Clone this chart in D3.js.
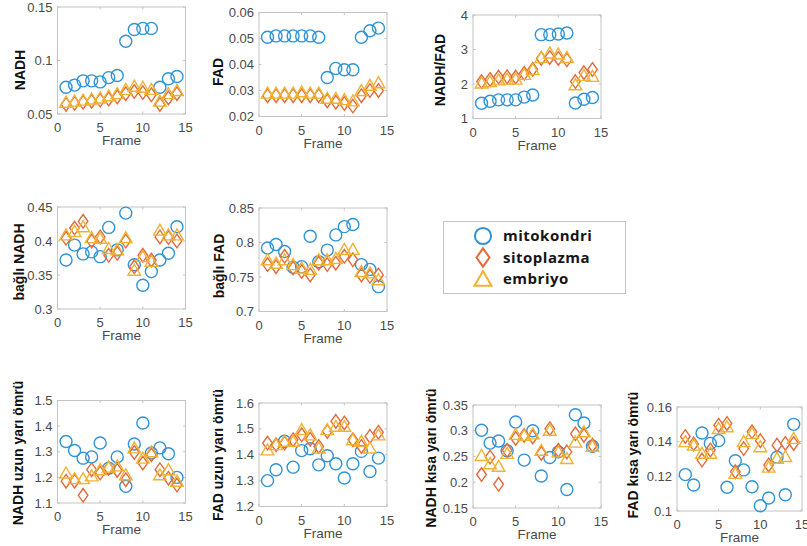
<!DOCTYPE html>
<html>
<head>
<meta charset="utf-8">
<script src="https://cdn.jsdelivr.net/npm/d3@7"></script>
<style>
  body { margin: 0; background: #fff; }
  svg { display: block; }
</style>
</head>
<body>
<svg id="chart" width="807" height="546"></svg>
<script>
// frames shared by every panel
const frames = [1, 2, 3, 4, 5, 6, 7, 8, 9, 10, 11, 12, 13, 14];

// NADH
const nadhMito = [0.075, 0.077, 0.081, 0.081, 0.080, 0.084, 0.086, 0.118, 0.129, 0.130, 0.130, 0.075, 0.083, 0.085];
const nadhSito = [0.059, 0.060, 0.061, 0.062, 0.063, 0.064, 0.066, 0.069, 0.071, 0.070, 0.068, 0.059, 0.065, 0.069];
const nadhEmb  = [0.061, 0.062, 0.063, 0.064, 0.065, 0.067, 0.069, 0.073, 0.076, 0.075, 0.073, 0.062, 0.069, 0.072];
// FAD
const fadMito = [0.0505, 0.051, 0.051, 0.051, 0.051, 0.051, 0.0505, 0.035, 0.0385, 0.038, 0.038, 0.0505, 0.053, 0.054];
const fadSito = [0.028, 0.028, 0.028, 0.028, 0.028, 0.028, 0.028, 0.026, 0.0255, 0.025, 0.024, 0.028, 0.030, 0.030];
const fadEmb  = [0.029, 0.029, 0.029, 0.029, 0.0295, 0.029, 0.029, 0.027, 0.027, 0.0265, 0.026, 0.030, 0.032, 0.033];
// NADH/FAD
const ratioMito = [1.44, 1.50, 1.54, 1.54, 1.54, 1.62, 1.68, 3.43, 3.43, 3.45, 3.48, 1.45, 1.56, 1.61];
const ratioSito = [2.07, 2.13, 2.20, 2.21, 2.20, 2.31, 2.43, 2.74, 2.77, 2.74, 2.70, 2.07, 2.33, 2.42];
const ratioEmb  = [2.03, 2.07, 2.12, 2.14, 2.14, 2.28, 2.42, 2.77, 2.90, 2.87, 2.77, 1.98, 2.25, 2.22];
// bağlı NADH
const boundNadhMito = [0.372, 0.394, 0.381, 0.384, 0.377, 0.420, 0.387, 0.441, 0.365, 0.335, 0.355, 0.372, 0.382, 0.421];
const boundNadhSito = [0.404, 0.419, 0.429, 0.400, 0.406, 0.379, 0.382, 0.400, 0.362, 0.379, 0.372, 0.406, 0.405, 0.400];
const boundNadhEmb  = [0.409, 0.414, 0.421, 0.405, 0.404, 0.389, 0.387, 0.405, 0.357, 0.377, 0.370, 0.416, 0.409, 0.409];
// bağlı FAD
const boundFadMito = [0.792, 0.797, 0.787, 0.764, 0.765, 0.809, 0.772, 0.789, 0.811, 0.823, 0.826, 0.768, 0.761, 0.736];
const boundFadSito = [0.768, 0.765, 0.780, 0.763, 0.758, 0.753, 0.770, 0.768, 0.770, 0.780, 0.775, 0.753, 0.751, 0.753];
const boundFadEmb  = [0.775, 0.770, 0.775, 0.768, 0.763, 0.761, 0.775, 0.775, 0.777, 0.790, 0.790, 0.758, 0.756, 0.746];
// NADH uzun yarı ömrü
const nadhLongMito = [1.340, 1.305, 1.275, 1.280, 1.334, 1.236, 1.280, 1.165, 1.330, 1.412, 1.295, 1.315, 1.292, 1.200];
const nadhLongSito = [1.185, 1.185, 1.130, 1.230, 1.217, 1.236, 1.227, 1.191, 1.297, 1.256, 1.288, 1.230, 1.197, 1.170];
const nadhLongEmb  = [1.217, 1.195, 1.195, 1.206, 1.230, 1.240, 1.245, 1.210, 1.315, 1.275, 1.300, 1.210, 1.230, 1.185];
// FAD uzun yarı ömrü
const fadLongMito = [1.300, 1.342, 1.452, 1.352, 1.416, 1.423, 1.361, 1.396, 1.365, 1.310, 1.365, 1.413, 1.335, 1.387];
const fadLongSito = [1.445, 1.439, 1.445, 1.458, 1.477, 1.460, 1.432, 1.490, 1.529, 1.523, 1.458, 1.432, 1.471, 1.487];
const fadLongEmb  = [1.419, 1.439, 1.452, 1.452, 1.497, 1.477, 1.426, 1.497, 1.510, 1.510, 1.458, 1.452, 1.426, 1.477];
// NADH kısa yarı ömrü
const nadhShortMito = [0.301, 0.276, 0.280, 0.261, 0.317, 0.243, 0.300, 0.212, 0.248, 0.259, 0.186, 0.331, 0.315, 0.270];
const nadhShortSito = [0.215, 0.249, 0.196, 0.262, 0.285, 0.291, 0.288, 0.256, 0.304, 0.262, 0.259, 0.294, 0.291, 0.272];
const nadhShortEmb  = [0.252, 0.236, 0.231, 0.256, 0.293, 0.291, 0.294, 0.262, 0.301, 0.259, 0.246, 0.278, 0.298, 0.270];
// FAD kısa yarı ömrü
const fadShortMito = [0.121, 0.115, 0.145, 0.139, 0.1406, 0.1137, 0.129, 0.1237, 0.114, 0.103, 0.1075, 0.131, 0.1094, 0.150];
const fadShortSito = [0.143, 0.1387, 0.1294, 0.1352, 0.1495, 0.1505, 0.1227, 0.136, 0.1457, 0.1406, 0.1266, 0.138, 0.139, 0.139];
const fadShortEmb  = [0.140, 0.138, 0.1333, 0.1333, 0.1476, 0.1486, 0.1217, 0.140, 0.1448, 0.1371, 0.1253, 0.1304, 0.1314, 0.1419];

const xTicks = [0, 5, 10, 15];
const seriesNames = ["mitokondri", "sitoplazma", "embriyo"];

// styles
const colors = ["#2f93d8", "#e26a3d", "#f1b231"];
const shapes = ["circle", "diamond", "triangle"];

// panel layout: box in pixels, label centre
const panels = [
  {label: "NADH", data: [nadhMito, nadhSito, nadhEmb], y: [0.05, 0.15], ticks: [0.05, 0.1, 0.15],
   box: [57.5, 7, 128, 107], lab: [20, 70]},
  {label: "FAD", data: [fadMito, fadSito, fadEmb], y: [0.02, 0.06], ticks: [0.02, 0.03, 0.04, 0.05, 0.06],
   box: [259, 12.5, 128, 104], lab: [218, 72]},
  {label: "NADH/FAD", data: [ratioMito, ratioSito, ratioEmb], y: [1, 4], ticks: [1, 2, 3, 4],
   box: [473, 15, 128, 103.5], lab: [440, 70]},
  {label: "bağlı NADH", data: [boundNadhMito, boundNadhSito, boundNadhEmb], y: [0.3, 0.45], ticks: [0.3, 0.35, 0.4, 0.45],
   box: [57.5, 207, 128, 102], lab: [19, 262]},
  {label: "bağlı FAD", data: [boundFadMito, boundFadSito, boundFadEmb], y: [0.7, 0.85], ticks: [0.7, 0.75, 0.8, 0.85],
   box: [259, 208, 128, 103.5], lab: [219, 266]},
  {label: "NADH uzun yarı ömrü", data: [nadhLongMito, nadhLongSito, nadhLongEmb], y: [1.1, 1.5], ticks: [1.1, 1.2, 1.3, 1.4, 1.5],
   box: [57.5, 400.5, 128, 102.5], lab: [18, 453]},
  {label: "FAD uzun yarı ömrü", data: [fadLongMito, fadLongSito, fadLongEmb], y: [1.2, 1.6], ticks: [1.2, 1.3, 1.4, 1.5, 1.6],
   box: [259, 403, 128, 103.5], lab: [218, 455]},
  {label: "NADH kısa yarı ömrü", data: [nadhShortMito, nadhShortSito, nadhShortEmb], y: [0.15, 0.35], ticks: [0.15, 0.2, 0.25, 0.3, 0.35],
   box: [473, 405, 128, 103], lab: [431, 458]},
  {label: "FAD kısa yarı ömrü", data: [fadShortMito, fadShortSito, fadShortEmb], y: [0.1, 0.16], ticks: [0.1, 0.12, 0.14, 0.16],
   box: [677, 407, 125, 104], lab: [633, 455]}
];

const svg = d3.select("#chart");
const fmt = v => String(+v.toFixed(3));

function markerPath(shape, big){
  let s = big ? 1.35 : 1;
  if (shape === "circle"){
    let r = 6 * s;
    return "M" + (-r) + ",0a" + r + "," + r + " 0 1,0 " + (2*r) + ",0a" + r + "," + r + " 0 1,0 " + (-2*r) + ",0Z";
  }
  if (shape === "diamond"){
    let w = 4.8 * s, h = 6.8 * s;
    return "M0," + (-h) + "L" + w + ",0L0," + h + "L" + (-w) + ",0Z";
  }
  let w = 6.3 * s;
  return "M0," + (-6 * s) + "L" + w + "," + (5 * s) + "L" + (-w) + "," + (5 * s) + "Z";
}

panels.forEach(function(p){
  let [left, top, w, h] = p.box;
  let x = d3.scaleLinear().domain([0, 15]).range([left, left + w]);
  let y = d3.scaleLinear().domain(p.y).range([top + h, top]);

  let g = svg.append("g");

  // box
  g.append("rect")
    .attr("x", left).attr("y", top)
    .attr("width", w).attr("height", h)
    .attr("fill", "none")
    .attr("stroke", "#c4c4c4")
    .attr("stroke-width", 1);

  // inward ticks
  xTicks.forEach(function(t){
    g.append("line").attr("x1", x(t)).attr("x2", x(t))
      .attr("y1", top + h).attr("y2", top + h - 2.5)
      .attr("stroke", "#c4c4c4");
    g.append("line").attr("x1", x(t)).attr("x2", x(t))
      .attr("y1", top).attr("y2", top + 2.5)
      .attr("stroke", "#c4c4c4");
    g.append("text")
      .attr("x", x(t)).attr("y", top + h + 18)
      .attr("text-anchor", "middle")
      .attr("font-family", "Liberation Sans, Arial, sans-serif")
      .attr("font-size", 13)
      .attr("fill", "#4a4a4a")
      .text(t);
  });
  p.ticks.forEach(function(t){
    g.append("line").attr("x1", left).attr("x2", left + 2.5)
      .attr("y1", y(t)).attr("y2", y(t))
      .attr("stroke", "#c4c4c4");
    g.append("line").attr("x1", left + w).attr("x2", left + w - 2.5)
      .attr("y1", y(t)).attr("y2", y(t))
      .attr("stroke", "#c4c4c4");
    g.append("text")
      .attr("x", left - 5).attr("y", y(t))
      .attr("dy", "0.35em")
      .attr("text-anchor", "end")
      .attr("font-family", "Liberation Sans, Arial, sans-serif")
      .attr("font-size", 13)
      .attr("fill", "#4a4a4a")
      .text(fmt(t));
  });

  // x label
  g.append("text")
    .attr("x", left + w / 2).attr("y", top + h + 31)
    .attr("text-anchor", "middle")
    .attr("font-family", "Liberation Sans, Arial, sans-serif")
    .attr("font-size", 13.5)
    .attr("fill", "#4a4a4a")
    .text("Frame");

  // y label
  g.append("text")
    .attr("transform", "translate(" + p.lab[0] + "," + p.lab[1] + ") rotate(-90)")
    .attr("dy", "0.35em")
    .attr("text-anchor", "middle")
    .attr("font-family", "Liberation Sans, Arial, sans-serif")
    .attr("font-weight", "bold")
    .attr("font-size", 14)
    .attr("fill", "#111")
    .text(p.label);

  // markers
  p.data.forEach(function(vals, si){
    g.selectAll(".m" + si)
      .data(frames.map((f, i) => [f, vals[i]]))
      .enter().append("path")
        .attr("d", markerPath(shapes[si], false))
        .attr("transform", d => "translate(" + x(d[0]) + "," + y(d[1]) + ")")
        .attr("fill", "none")
        .attr("stroke", colors[si])
        .attr("stroke-width", 1.4);
  });
});

// legend
let lg = svg.append("g");
lg.append("rect")
  .attr("x", 443.5).attr("y", 221.5)
  .attr("width", 182).attr("height", 72)
  .attr("fill", "#fff")
  .attr("stroke", "#c4c4c4");
seriesNames.forEach(function(name, i){
  let cy = 236 + i * 21.5;
  lg.append("path")
    .attr("d", markerPath(shapes[i], true))
    .attr("transform", "translate(483," + cy + ")")
    .attr("fill", "none")
    .attr("stroke", colors[i])
    .attr("stroke-width", 2);
  lg.append("text")
    .attr("x", 503).attr("y", cy)
    .attr("dy", "0.35em")
    .attr("font-family", "Open Sans, sans-serif")
    .attr("font-weight", 700)
    .attr("font-size", 15)
    .attr("letter-spacing", 0.5)
    .attr("fill", "#151515")
    .text(name);
});
</script>
</body>
</html>
